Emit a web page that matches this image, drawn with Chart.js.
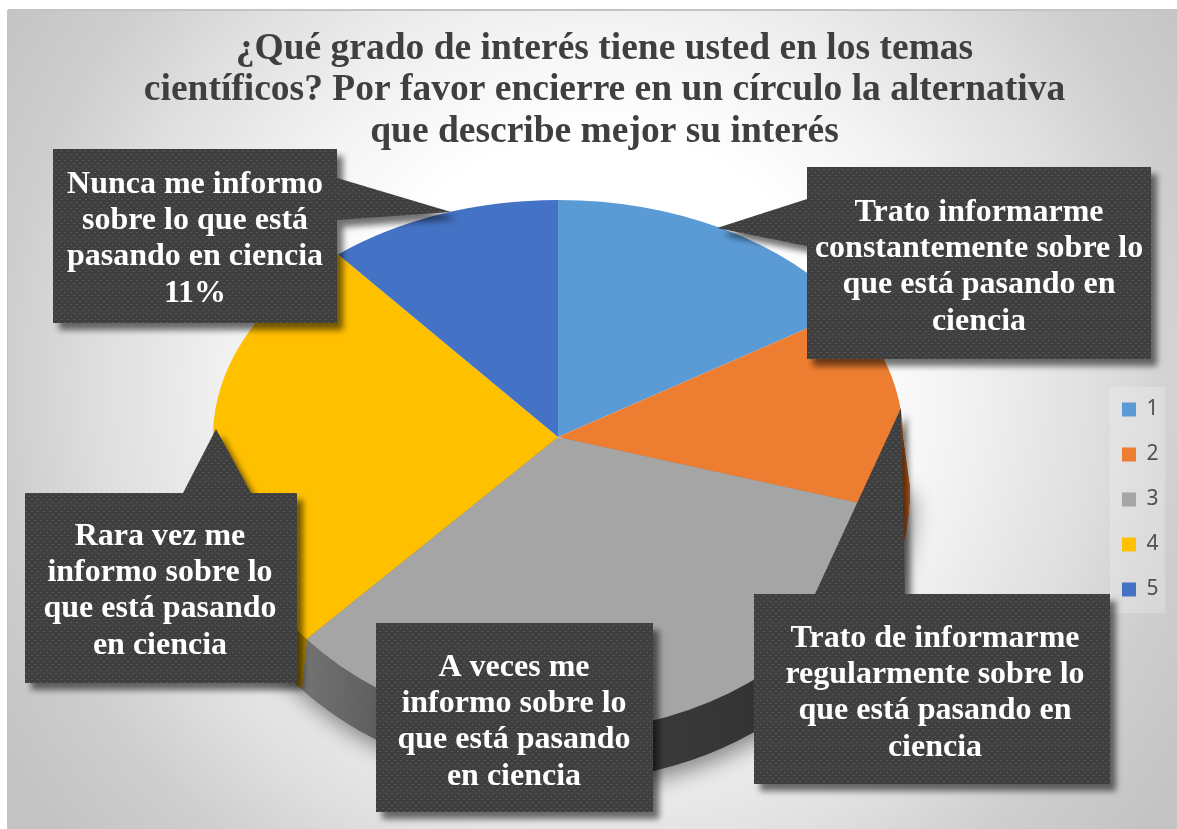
<!DOCTYPE html>
<html>
<head>
<meta charset="utf-8">
<title>Interés en temas científicos</title>
<script src="https://cdn.jsdelivr.net/npm/chart.js@4"></script>
<style>
  html, body { margin: 0; padding: 0; background: #fff; }
  canvas { display: block; }
</style>
</head>
<body>
<canvas id="chart1" width="1177" height="829"></canvas>
<script>
// data
const categories = ['1', '2', '3', '4', '5'];
const values = [16, 13, 34, 26, 11];
const sliceColors = ['#5b9bd5', '#ed7d31', '#a5a5a5', '#ffc000', '#4472c4'];
const sideColors = ['#3b6a93', '#c9631f', '#555555', '#ad8300', '#2f4f88'];
const titleLines = [
  '¿Qué grado de interés tiene usted en los temas',
  'científicos? Por favor encierre en un círculo la alternativa',
  'que describe mejor su interés'
];
const calloutLines = [
  ['Nunca me informo', 'sobre lo que está', 'pasando en ciencia', '11%'],
  ['Trato informarme', 'constantemente sobre lo', 'que está pasando en', 'ciencia'],
  ['Trato de informarme', 'regularmente sobre lo', 'que está pasando en', 'ciencia'],
  ['A veces me', 'informo sobre lo', 'que está pasando', 'en ciencia'],
  ['Rara vez me', 'informo sobre lo', 'que está pasando', 'en ciencia']
];

// callout outlines, same order as calloutLines
const calloutShapes = [
  { cx: 195, cy: 239, pts: [[53,149],[337,149],[337,178],[451,212],[337,220],[337,323],[53,323]] },
  { cx: 979, cy: 267, pts: [[807,167],[1151,167],[1151,359],[807,359],[807,246],[717,228],[807,199]] },
  { cx: 935, cy: 693, pts: [[754,594],[815,594],[901,408],[905,594],[1110,594],[1110,784],[754,784]] },
  { cx: 514, cy: 722, pts: [[376,623],[653,623],[653,812],[376,812]] },
  { cx: 160, cy: 591, pts: [[25,493],[183,493],[216,429],[251,493],[297,493],[297,683],[25,683]] }
];

// the pie is tilted: wider than tall, and nearer half bigger than the far half
const pieX = 558, pieY = 437, pieRx = 345, pieRyTop = 237, pieRyBottom = 295;
const pieDepth = 50, pieFlare = 7;

function dotPattern(ctx) {
  const c = document.createElement('canvas');
  c.width = 6; c.height = 6;
  const p = c.getContext('2d');
  p.fillStyle = '#3f3f3f';
  p.fillRect(0, 0, 6, 6);
  p.fillStyle = '#565656';
  p.fillRect(1, 1, 2, 1);
  p.fillRect(4, 4, 2, 1);
  return ctx.createPattern(c, 'repeat');
}

function clipRect(ctx, y0, y1) {
  ctx.beginPath();
  ctx.rect(0, y0, 1177, y1 - y0);
  ctx.clip();
}

const piePlugin = {
  id: 'tiltedPie',
  beforeDraw(chart) {
    const ctx = chart.ctx;
    const bg = ctx.createRadialGradient(600, 380, 0, 600, 380, 700);
    bg.addColorStop(0, '#ffffff');
    bg.addColorStop(0.35, '#ffffff');
    bg.addColorStop(0.5, '#f4f4f4');
    bg.addColorStop(0.72, '#dedede');
    bg.addColorStop(0.85, '#cecece');
    bg.addColorStop(1, '#c4c4c4');
    ctx.save();
    ctx.fillStyle = bg;
    ctx.fillRect(8, 10, 1169, 819);
    ctx.fillStyle = '#c4c4c4';
    ctx.fillRect(8, 9, 1169, 2);
    ctx.fillRect(7, 10, 1, 819);
    // legend panel
    ctx.fillStyle = 'rgba(255,255,255,0.22)';
    ctx.fillRect(1110, 387, 55, 226);
    ctx.restore();
  },
  afterLayout(chart) {
    // title centre and legend spot are off the plot centre in the picture
    chart.titleBlock.left = 16;
    chart.titleBlock.right = 1193;
    chart.titleBlock.top = 0;
    chart.legend.left = 1098;
    chart.legend.right = 1177;
    chart.legend.top = 375;
    chart.legend.bottom = 829;
  },
  beforeDatasetsDraw(chart) {
    const ctx = chart.ctx;
    const arcs = chart.getDatasetMeta(0).data;
    const R = arcs[0].outerRadius;

    // soft shadow under the pie
    ctx.save();
    ctx.shadowColor = 'rgba(0,0,0,0.45)';
    ctx.shadowBlur = 22;
    ctx.shadowOffsetX = 3;
    ctx.shadowOffsetY = 8;
    ctx.fillStyle = '#555';
    ctx.beginPath();
    ctx.ellipse(pieX, pieY + pieDepth, pieRx + pieFlare, pieRyBottom, 0, 0, Math.PI);
    ctx.fill();
    ctx.restore();

    // gradient runs in the scaled space of the wall below
    const side = ctx.createLinearGradient((300 - pieX) * R / pieRx, 0, (760 - pieX) * R / pieRx, 0);
    side.addColorStop(0, '#757575');
    side.addColorStop(0.2, '#5a5a5a');
    side.addColorStop(0.7, '#3c3c3c');
    side.addColorStop(1, '#333333');

    // side wall, stacked from the bottom up
    for (let k = pieDepth; k >= 1; k--) {
      const rx = pieRx + pieFlare * k / pieDepth;
      ctx.save();
      clipRect(ctx, pieY + k, 829);
      ctx.translate(pieX, pieY + k);
      ctx.scale(rx / R, pieRyBottom / R);
      arcs.forEach((el, i) => {
        ctx.beginPath();
        ctx.moveTo(0, 0);
        ctx.arc(0, 0, R, el.startAngle, el.endAngle);
        ctx.closePath();
        ctx.fillStyle = i === 2 ? side : sideColors[i];
        ctx.fill();
      });
      ctx.restore();
    }

    // top face: far half and near half get their own vertical scale
    [[0, pieY, pieRyTop], [pieY, 829, pieRyBottom]].forEach(([y0, y1, ry]) => {
      ctx.save();
      clipRect(ctx, y0, y1);
      ctx.translate(pieX, pieY);
      ctx.scale(pieRx / R, ry / R);
      ctx.translate(-arcs[0].x, -arcs[0].y);
      arcs.forEach(el => el.draw(ctx));
      ctx.restore();
    });
    return false;
  },
  afterDraw(chart) {
    const ctx = chart.ctx;
    const fill = dotPattern(ctx);
    calloutShapes.forEach((s, i) => {
      ctx.save();
      ctx.shadowColor = 'rgba(0,0,0,0.55)';
      ctx.shadowBlur = 6;
      ctx.shadowOffsetX = 6;
      ctx.shadowOffsetY = 7;
      ctx.fillStyle = fill;
      ctx.beginPath();
      s.pts.forEach((p, j) => j ? ctx.lineTo(p[0], p[1]) : ctx.moveTo(p[0], p[1]));
      ctx.closePath();
      ctx.fill();
      ctx.restore();

      ctx.save();
      ctx.fillStyle = '#ffffff';
      ctx.font = 'bold 32px "Liberation Serif"';
      ctx.textAlign = 'center';
      ctx.textBaseline = 'middle';
      const lines = calloutLines[i];
      lines.forEach((t, j) => {
        ctx.fillText(t, s.cx, s.cy + (j - (lines.length - 1) / 2) * 36.4);
      });
      ctx.restore();
    });
  }
};

const ctx = document.getElementById('chart1');
new Chart(ctx, {
  type: 'pie',
  data: {
    labels: categories,
    datasets: [{
      data: values,
      backgroundColor: sliceColors,
      borderWidth: 0
    }]
  },
  options: {
    responsive: false,
    animation: false,
    layout: { padding: { top: 49, bottom: 155, left: 213, right: 224 } },
    plugins: {
      tooltip: { enabled: false },
      title: {
        display: true,
        text: titleLines,
        color: '#3f3f3f',
        font: { family: '"Liberation Serif"', size: 37.5, weight: 'bold', lineHeight: 1.11 },
        padding: { top: 28, bottom: 0 }
      },
      legend: {
        position: 'right',
        align: 'start',
        labels: {
          boxWidth: 14,
          boxHeight: 14,
          padding: 24,
          color: '#505050',
          font: { family: '"Noto Sans"', size: 21 }
        }
      }
    }
  },
  plugins: [piePlugin]
});
</script>
</body>
</html>
